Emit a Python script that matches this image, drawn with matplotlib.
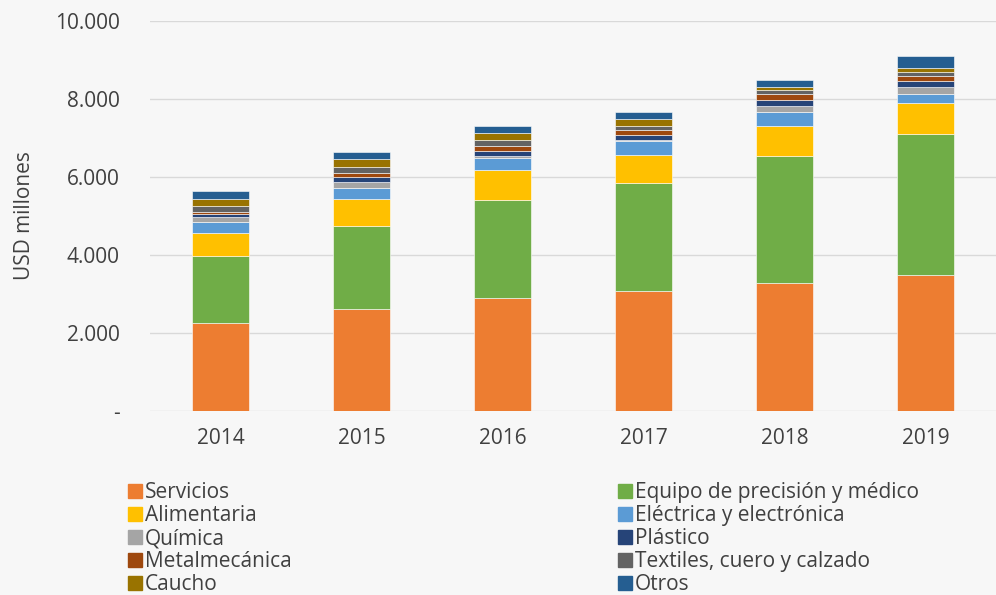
#!/usr/bin/env python3
# -*- coding: utf-8 -*-
"""
Barras apiladas: exportaciones por sector, USD millones, 2014-2019.
Guarda out.png
"""

import matplotlib.pyplot as plt
import numpy as np
from matplotlib.patches import Patch

years = ["2014", "2015", "2016", "2017", "2018", "2019"]

servicios = [2250, 2615, 2900, 3080, 3280, 3490]
equipo = [1720, 2130, 2510, 2770, 3270, 3610]
alimentaria = [590, 690, 770, 720, 750, 795]
electrica = [280, 280, 310, 360, 370, 230]
quimica = [130, 155, 40, 30, 145, 180]
plastico = [80, 130, 130, 120, 170, 155]
metalmecanica = [50, 100, 130, 130, 135, 130]
textiles = [150, 155, 150, 100, 120, 100]
caucho = [180, 205, 180, 180, 70, 100]
otros = [200, 180, 180, 180, 170, 310]

series = [
    ("Servicios", servicios, "#ED7D31"),
    ("Equipo de precisión y médico", equipo, "#70AD47"),
    ("Alimentaria", alimentaria, "#FFC000"),
    ("Eléctrica y electrónica", electrica, "#5B9BD5"),
    ("Química", quimica, "#A5A5A5"),
    ("Plástico", plastico, "#264478"),
    ("Metalmecánica", metalmecanica, "#9E480E"),
    ("Textiles, cuero y calzado", textiles, "#636363"),
    ("Caucho", caucho, "#997300"),
    ("Otros", otros, "#255E91"),
]

TXT = "#404040"


def fmt_miles(v, pos=None):
    if v == 0:
        return "-"
    return f"{int(v):,}".replace(",", ".")


def main():
    plt.rcParams["font.family"] = ["Open Sans", "DejaVu Sans"]

    fig = plt.figure(figsize=(9.96, 5.95), dpi=100)
    fig.patch.set_facecolor("#f7f7f7")
    ax = fig.add_axes([150 / 996, 1 - 411 / 595, 846 / 996, 390 / 595])
    ax.set_facecolor("none")

    x = np.arange(len(years))
    bottom = np.zeros(len(years))
    handles = []
    for name, vals, color in series:
        vals = np.array(vals, dtype=float)
        ax.bar(x, vals, bottom=bottom, width=0.4, color=color,
               edgecolor="white", linewidth=0.4, zorder=3)
        bottom += vals
        handles.append(Patch(color=color, label=name))

    ax.set_xlim(-0.5, len(years) - 0.5)
    ax.set_ylim(0, 10000)
    ax.set_yticks(range(0, 10001, 2000))
    ax.yaxis.set_major_formatter(plt.FuncFormatter(fmt_miles))
    ax.set_xticks(x)
    ax.set_xticklabels(years)
    ax.tick_params(axis="both", length=0, labelsize=15, colors=TXT)
    ax.tick_params(axis="y", pad=22)
    ax.tick_params(axis="x", pad=12)
    ax.grid(axis="y", color="#d9d9d9", linewidth=1, zorder=0)
    for s in ax.spines.values():
        s.set_visible(False)

    ax.set_ylabel("USD millones", fontsize=15, color=TXT, labelpad=14)

    # Leyenda en dos columnas, orden por filas
    kw = dict(frameon=False, fontsize=15, labelcolor=TXT, handlelength=0.65,
              handleheight=0.65, handletextpad=0.15, labelspacing=0.1,
              borderaxespad=0, borderpad=0)
    fig.legend(handles=handles[0::2], loc="upper left",
               bbox_to_anchor=(128 / 996, 1 - 482 / 595), **kw)
    fig.legend(handles=handles[1::2], loc="upper left",
               bbox_to_anchor=(618 / 996, 1 - 482 / 595), **kw)

    fig.savefig("out.png", dpi=100, facecolor=fig.get_facecolor())
    plt.close(fig)


if __name__ == "__main__":
    main()
